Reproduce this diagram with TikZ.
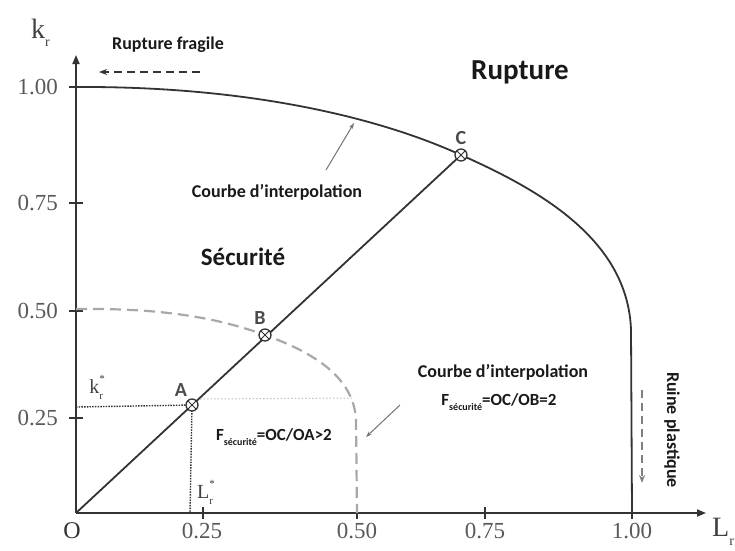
\documentclass[tikz,border=0pt]{standalone}
\usepackage{fontspec}
\setmainfont{Liberation Serif}
\newfontfamily\labfont{Carlito}
\usetikzlibrary{arrows.meta}
\definecolor{ink}{HTML}{333333}
\definecolor{soft}{HTML}{A8A8A8}

% F with the small "sécurité" index
\newcommand\fsec[1]{F\raisebox{-0.25em}{\fontsize{10}{10}\selectfont sécurité}#1}
% letter with a subscript and a superscript stacked
\newcommand\idx[4]{#1\rlap{\raisebox{-0.3em}{\fontsize{#4}{#4}\selectfont #2}}\raisebox{0.55em}{\fontsize{#4}{#4}\selectfont #3}}

\begin{document}
\begin{tikzpicture}[x=1pt,y=-1pt,
  axis/.style={draw=ink, line width=1.8pt},
  curve/.style={draw=ink, line width=1.8pt},
  inner/.style={draw=soft, line width=2.2pt, dash pattern=on 11pt off 6pt},
  guide/.style={draw=ink, line width=1.4pt, dash pattern=on 1.5pt off 1.2pt},
  faint/.style={draw=black!25, line width=1pt, dash pattern=on 1.5pt off 2pt},
  ptmark/.style={circle, draw=ink, fill=white, line width=1.3pt, minimum size=12pt, inner sep=0pt,
    path picture={\draw[ink, line width=1pt]
      (path picture bounding box.north west) -- (path picture bounding box.south east)
      (path picture bounding box.north east) -- (path picture bounding box.south west);}},
  ptlabel/.style={font=\labfont\bfseries\fontsize{20}{20}\selectfont, text=black!70, inner sep=0pt},
  lab/.style={font=\labfont\bfseries\fontsize{18}{20}\selectfont, text=black!90, inner sep=0pt},
  ticklab/.style={font=\fontsize{23}{23}\selectfont, text=black!65, inner sep=0pt},
  pointer/.style={draw=black!55, line width=1pt, -{Stealth[length=6pt,width=4pt]}},
  flow/.style={line width=1.8pt, dash pattern=on 8pt off 5pt, -{Stealth[length=8pt,width=6pt]}}
]
\useasboundingbox (0,0) rectangle (735,550);

% axes
\coordinate (O) at (76,513);
\coordinate (ytop) at (76,55);
\coordinate (xend) at (706,513);
\draw[axis, -{Triangle[length=9pt,width=7pt]}] (O) -- (ytop);
\draw[axis, -{Triangle[length=9pt,width=7pt]}] (O) -- (xend);

% ticks
\foreach \y in {87,203,311,418} \draw[axis] (69,\y) -- (83,\y);
\foreach \x in {203,357,485,632} \draw[axis] (\x,507) -- (\x,519);

% tick labels
\node[ticklab, anchor=east] (y100) at (58,87) {1.00};
\node[ticklab, anchor=east] (y075) at (58,203) {0.75};
\node[ticklab, anchor=east] (y050) at (58,311) {0.50};
\node[ticklab, anchor=east] (y025) at (58,418) {0.25};
\node[ticklab] (x025) at (202,531) {0.25};
\node[ticklab] (x050) at (357,531) {0.50};
\node[ticklab] (x075) at (485,531) {0.75};
\node[ticklab] (x100) at (632,531) {1.00};
\node[ticklab, text=black!80, font=\fontsize{24}{24}\selectfont] (Olab) at (72,531) {O};

% axis names
\node[font=\fontsize{28}{28}\selectfont, text=black!75, inner sep=0pt] (kr) at (38,33) {\idx{k}{r}{}{14}};
\node[font=\fontsize{28}{28}\selectfont, text=black!75, inner sep=0pt, anchor=west] (Lr) at (712,532) {\idx{L}{r}{}{14}};

% failure assessment curve
\draw[curve] (76,87) .. controls (250,86) and (380,118) .. (461,155)
  .. controls (540,190) and (628,240) .. (631,330) -- (632,513);

% reduced curve
\draw[inner] (76,309) .. controls (160,308) and (215,317) .. (265,335)
  .. controls (315,353) and (354,378) .. (356,420) -- (357,513);

% load line and points
\coordinate (pA) at (192,405);
\coordinate (pB) at (265,335);
\coordinate (pC) at (461,155);
\coordinate (kA) at (76,407);
\coordinate (LA) at (190,513);
\coordinate (fA) at (200,399);
\coordinate (fB) at (354,398);
\draw[guide] (kA) -- (pA);
\draw[guide] (pA) -- (LA);
\draw[faint] (fA) -- (fB);
\draw[curve] (O) -- (pC);
\node[ptmark] (A) at (pA) {};
\node[ptmark] (B) at (pB) {};
\node[ptmark] (C) at (pC) {};
\node[ptlabel] (Alab) at (181,390) {A};
\node[ptlabel] (Blab) at (260,318) {B};
\node[ptlabel] (Clab) at (461,138) {C};

\node[font=\fontsize{20}{20}\selectfont, text=black!75, inner sep=0pt] (kstar) at (97,387) {\idx{k}{r}{*}{11}};
\node[font=\fontsize{20}{20}\selectfont, text=black!75, inner sep=0pt] (Lstar) at (206,492) {\idx{L}{r}{*}{11}};

% region names
\node[lab, font=\labfont\bfseries\fontsize{29}{30}\selectfont] (rupt) at (520,72) {Rupture};
\node[lab, font=\labfont\bfseries\fontsize{25}{26}\selectfont] (secu) at (243,257) {Sécurité};

% brittle fracture
\node[lab] (frag) at (168,45) {Rupture fragile};
\coordinate (fragS) at (200,72);
\coordinate (fragE) at (99,72);
\draw[flow, draw=ink] (fragS) -- (fragE);

% plastic collapse
\node[lab, rotate=-90] (ruine) at (672,430) {Ruine plastique};
\coordinate (ruS) at (642,390);
\coordinate (ruE) at (642,483);
\draw[flow, draw=black!50] (ruS) -- (ruE);

% curve labels
\node[lab] (ci1) at (277,192) {Courbe d’interpolation};
\coordinate (ci1s) at (326,170);
\coordinate (ci1e) at (354,123);
\draw[pointer] (ci1s) -- (ci1e);

\node[lab] (ci2) at (503,372) {Courbe d’interpolation};
\node[lab, font=\labfont\bfseries\fontsize{17}{18}\selectfont] (fob) at (499,402) {\fsec{=OC/OB=2}};
\node[lab, font=\labfont\bfseries\fontsize{17}{18}\selectfont] (foa) at (274,437) {\fsec{=OC/OA>2}};
\coordinate (ci2s) at (400,405);
\coordinate (ci2e) at (366,437);
\draw[pointer] (ci2s) -- (ci2e);
\end{tikzpicture}
\end{document}
